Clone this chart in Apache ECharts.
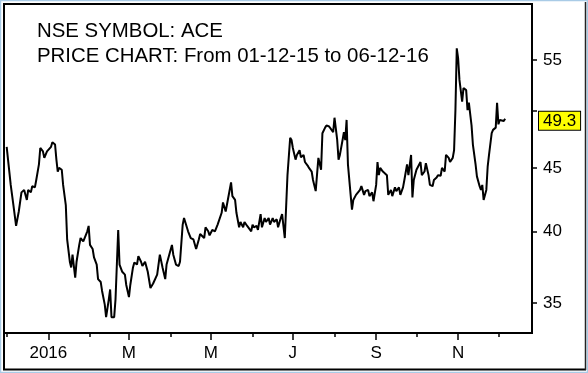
<!DOCTYPE html>
<html>
<head>
<meta charset="utf-8">
<style>
html,body{margin:0;padding:0;background:#fff;}
#chart{width:588px;height:373px;}
</style>
<script src="https://cdn.jsdelivr.net/npm/echarts@6/dist/echarts.min.js"></script>
</head>
<body>
<div id="chart"></div>
<script>
// ---- data ----
const dates = [
'2015-12-01','2015-12-02','2015-12-04','2015-12-06','2015-12-08','2015-12-10','2015-12-12','2015-12-14','2015-12-16','2015-12-17',
'2015-12-19','2015-12-20','2015-12-22','2015-12-23','2015-12-25','2015-12-26','2015-12-28','2015-12-29','2015-12-31',
'2016-01-01','2016-01-03','2016-01-04','2016-01-06','2016-01-07','2016-01-08','2016-01-09','2016-01-11','2016-01-12','2016-01-14',
'2016-01-15','2016-01-17','2016-01-18','2016-01-19','2016-01-21','2016-01-22','2016-01-24','2016-01-25','2016-01-27','2016-01-28',
'2016-01-30','2016-01-31',
'2016-02-01','2016-02-03','2016-02-04','2016-02-06','2016-02-07','2016-02-09','2016-02-10','2016-02-12','2016-02-13','2016-02-15',
'2016-02-16','2016-02-17','2016-02-19','2016-02-20','2016-02-22','2016-02-23','2016-02-25','2016-02-27','2016-02-28',
'2016-03-01','2016-03-02','2016-03-04','2016-03-05','2016-03-07','2016-03-08','2016-03-10','2016-03-11','2016-03-13','2016-03-15',
'2016-03-17','2016-03-19','2016-03-22','2016-03-24','2016-03-26','2016-03-28','2016-03-29','2016-03-31',
'2016-04-02','2016-04-03','2016-04-05','2016-04-07','2016-04-08','2016-04-10','2016-04-11','2016-04-14','2016-04-16','2016-04-18',
'2016-04-20','2016-04-22','2016-04-23','2016-04-26','2016-04-27','2016-04-29','2016-04-30',
'2016-05-02','2016-05-04','2016-05-06','2016-05-07','2016-05-09','2016-05-10','2016-05-12','2016-05-13','2016-05-16','2016-05-17',
'2016-05-19','2016-05-20','2016-05-22','2016-05-23','2016-05-25','2016-05-26','2016-05-28','2016-05-29','2016-05-31',
'2016-06-01','2016-06-02','2016-06-04','2016-06-05','2016-06-07','2016-06-08','2016-06-10','2016-06-11','2016-06-13','2016-06-14',
'2016-06-16','2016-06-17','2016-06-19','2016-06-20','2016-06-22','2016-06-23','2016-06-25','2016-06-27','2016-06-29','2016-06-30',
'2016-07-01','2016-07-03','2016-07-04','2016-07-06','2016-07-07','2016-07-09','2016-07-10','2016-07-12','2016-07-13','2016-07-15',
'2016-07-16','2016-07-18','2016-07-19','2016-07-20','2016-07-22','2016-07-23','2016-07-25','2016-07-26','2016-07-28','2016-07-29',
'2016-07-31',
'2016-08-01','2016-08-03','2016-08-04','2016-08-05','2016-08-07','2016-08-08','2016-08-09','2016-08-10','2016-08-11','2016-08-13',
'2016-08-14','2016-08-15','2016-08-17','2016-08-18','2016-08-20','2016-08-21','2016-08-23','2016-08-24','2016-08-26','2016-08-27',
'2016-08-29','2016-08-30',
'2016-09-01','2016-09-02','2016-09-03','2016-09-04','2016-09-06','2016-09-07','2016-09-09','2016-09-10','2016-09-12','2016-09-13',
'2016-09-15','2016-09-16','2016-09-18','2016-09-19','2016-09-21','2016-09-22','2016-09-24','2016-09-25','2016-09-27','2016-09-28',
'2016-09-29',
'2016-10-01','2016-10-02','2016-10-04','2016-10-05','2016-10-07','2016-10-08','2016-10-10','2016-10-11','2016-10-13','2016-10-14',
'2016-10-16','2016-10-17','2016-10-19','2016-10-20','2016-10-22','2016-10-23','2016-10-25','2016-10-26','2016-10-28','2016-10-29',
'2016-10-30','2016-10-31',
'2016-11-01','2016-11-02','2016-11-04','2016-11-05','2016-11-07','2016-11-08','2016-11-09','2016-11-11','2016-11-12','2016-11-14',
'2016-11-15','2016-11-17','2016-11-18','2016-11-19','2016-11-20','2016-11-22','2016-11-23','2016-11-24','2016-11-26','2016-11-27',
'2016-11-29','2016-11-30',
'2016-12-01','2016-12-02','2016-12-05','2016-12-06'
];
const prices = [
46.8,45.7,43.6,42.0,40.4,41.5,43.0,43.2,42.4,43.2,
43.0,43.5,43.4,44.0,45.3,46.7,46.4,45.85,46.4,
46.5,46.8,47.2,47.0,45.7,44.7,45.0,44.85,43.6,42.0,
39.4,37.8,37.4,38.3,36.7,37.8,39.0,39.5,39.25,39.5,
40.0,40.4,
39.0,38.7,38.1,37.6,36.6,36.4,35.8,34.9,34.1,35.25,
35.9,34.1,34.1,35.25,40.1,37.6,37.1,36.9,36.2,
35.4,36.2,37.4,37.75,37.6,38.2,37.8,37.5,37.8,37.1,
36.0,36.3,36.9,38.3,37.4,36.6,37.6,38.3,
39.0,38.3,37.6,37.5,37.8,40.5,41.0,40.0,39.5,39.4,
38.7,39.4,39.8,39.5,40.3,40.0,39.7,
40.1,40.0,40.5,40.4,41.4,42.2,41.5,41.65,43.8,42.7,
42.4,41.4,40.3,40.7,40.3,40.7,40.4,40.5,40.0,
40.5,40.3,40.4,40.1,41.3,40.3,41.0,40.7,41.0,40.5,
41.0,40.7,40.9,40.3,41.0,41.3,39.5,44.4,47.6,47.4,
46.7,45.7,46.1,46.5,45.9,46.1,45.5,45.2,45.0,44.7,
44.0,43.1,43.0,45.85,44.85,48.0,48.5,48.7,48.6,48.7,
48.1,
49.4,47.4,45.7,46.1,47.4,48.1,47.4,49.2,45.3,42.8,
41.65,42.4,42.8,42.7,43.2,43.5,42.8,43.1,43.2,42.7,
43.0,42.3,
43.6,45.5,44.4,45.0,44.7,44.85,44.4,42.8,43.2,42.7,
43.4,43.1,43.4,42.8,43.4,44.0,45.3,44.4,46.1,42.6,
44.0,
44.85,45.0,45.5,44.4,44.7,45.4,44.4,43.6,43.5,44.0,
44.2,44.4,44.35,45.0,44.7,46.1,45.85,45.5,45.85,46.5,
50.1,56.2,
55.2,53.0,50.9,52.2,52.0,50.1,50.8,48.7,47.0,45.3,
44.3,43.5,43.2,43.6,42.4,43.2,45.1,46.1,48.0,48.3,
48.5,50.8,
48.8,49.2,49.1,49.3
];
const lastPrice = 49.3;
const xLabelDates = ['2016-01-01','2016-03-01','2016-05-01','2016-07-01','2016-09-01','2016-11-01'];
const xLabelTexts = ['2016','M','M','J','S','N'];
const xMinorTickDates = ['2015-12-01','2016-02-01','2016-04-01','2016-06-01','2016-08-01','2016-10-01','2016-12-01'];
const yTickValues = [35, 40, 45, 50, 55];
const yLabelValues = [35, 40, 45, 55];
const titleLines = ['NSE SYMBOL: ACE', 'PRICE CHART: From 01-12-15 to 06-12-16'];

// ---- chart ----
const P = s => { const [y, m, d] = s.split('-').map(Number); return Date.UTC(y, m - 1, d); };
const labelTs = xLabelDates.map(P);
const FONT = 'Liberation Sans, Arial, sans-serif';
const chart = echarts.init(document.getElementById('chart'), null, {renderer: 'canvas'});
const xMin = P('2015-11-29'), xMax = P('2016-12-26');

chart.setOption({
  animation: false,
  backgroundColor: '#fff',
  title: {
    text: titleLines.join('\n'),
    left: 37, top: 19, padding: 0,
    textStyle: {fontFamily: FONT, fontSize: 20.4, fontWeight: 'normal', color: '#000', lineHeight: 25}
  },
  grid: {left: 4, top: 4, right: 56, bottom: 40, show: true, borderColor: '#000', borderWidth: 2, backgroundColor: 'transparent'},
  xAxis: [{
    type: 'value', min: xMin, max: xMax, position: 'bottom',
    axisLine: {show: true, lineStyle: {color: '#000', width: 2}},
    axisTick: {show: true, length: 7, lineStyle: {color: '#000', width: 1.5}, customValues: labelTs},
    axisLabel: {
      show: true, customValues: labelTs, margin: 12, color: '#000', fontFamily: FONT, fontSize: 17,
      formatter: v => { const i = labelTs.indexOf(v); return i >= 0 ? xLabelTexts[i] : ''; }
    },
    splitLine: {show: false}
  }, {
    type: 'value', min: xMin, max: xMax, position: 'bottom', offset: 0,
    axisLine: {show: false},
    axisTick: {show: true, length: 4, lineStyle: {color: '#000', width: 1.5}, customValues: xMinorTickDates.map(P)},
    axisLabel: {show: false},
    splitLine: {show: false}
  }],
  yAxis: {
    type: 'log', logBase: 10, min: 33.11, max: 61.03, position: 'right',
    axisLine: {show: true, lineStyle: {color: '#000', width: 2}},
    axisTick: {show: true, length: 5, lineStyle: {color: '#000', width: 1.5}, customValues: yTickValues},
    axisLabel: {show: true, customValues: yLabelValues, margin: 11, color: '#000', fontFamily: FONT, fontSize: 17},
    splitLine: {show: false}
  },
  series: [{
    type: 'line',
    xAxisIndex: 0,
    data: dates.map((d, i) => [P(d), prices[i]]),
    showSymbol: false,
    lineStyle: {color: '#000', width: 2},
    markLine: {
      silent: true, symbol: 'none',
      lineStyle: {color: 'transparent', width: 0},
      data: [{yAxis: lastPrice}],
      label: {
        show: true, position: 'end', distance: 7, offset: [0, 2],
        formatter: String(lastPrice),
        backgroundColor: '#ffff00', borderColor: '#000', borderWidth: 1,
        padding: [1, 4, 0, 4], color: '#000', fontFamily: FONT, fontSize: 17
      }
    }
  }],
  graphic: [
    {type: 'rect', shape: {x: 0.5, y: 0.5, width: 587, height: 372}, style: {fill: 'none', stroke: '#a9cbe6', lineWidth: 1.5}, z: 100},
    {type: 'line', shape: {x1: 4, y1: 4, x2: 4, y2: 370}, style: {stroke: '#000', lineWidth: 2}, z: 100},
    {type: 'line', shape: {x1: 3, y1: 369.5, x2: 586, y2: 369.5}, style: {stroke: '#000', lineWidth: 2}, z: 100},
    {type: 'line', shape: {x1: 585.5, y1: 2, x2: 585.5, y2: 370}, style: {stroke: '#222', lineWidth: 1.5}, z: 100}
  ]
});
</script>
</body>
</html>
